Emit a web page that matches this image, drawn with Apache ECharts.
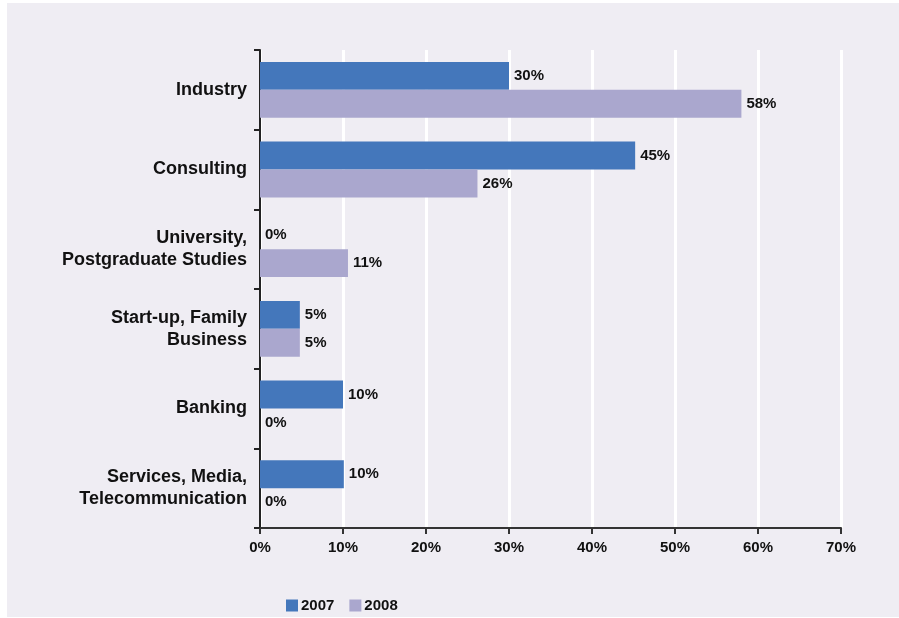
<!DOCTYPE html>
<html>
<head>
<meta charset="utf-8">
<script src="https://cdn.jsdelivr.net/npm/echarts@6/dist/echarts.min.js"></script>
<style>
html,body{margin:0;padding:0;background:#ffffff;}
#chart{width:899px;height:618px;}
</style>
</head>
<body>
<div id="chart"></div>
<script>
const categories = ['Industry', 'Consulting', 'University,\nPostgraduate Studies', 'Start-up, Family\nBusiness', 'Banking', 'Services, Media,\nTelecommunication'];
const values2007 = [30, 45.2, 0, 4.8, 10, 10.1];
const values2008 = [58, 26.2, 10.6, 4.8, 0, 0];
const xTicks = [0, 10, 20, 30, 40, 50, 60, 70];

const FONT = '"Liberation Sans", Arial, sans-serif';
const chart = echarts.init(document.getElementById('chart'));
const labelStyle = {
  show: true, position: 'right', distance: 5,
  fontFamily: FONT, fontWeight: 'bold', fontSize: 15, color: '#111',
  formatter: p => Math.round(p.value) + '%'
};
chart.setOption({
  animation: false,
  backgroundColor: 'transparent',
  graphic: [{
    type: 'rect', z: -10, silent: true,
    shape: {x: 7, y: 3, width: 892, height: 614},
    style: {fill: '#efedf3'}
  }],
  grid: {left: 260, right: 58, top: 50, bottom: 90, containLabel: false},
  legend: {
    left: 281, top: 593, itemWidth: 12, itemHeight: 12, itemGap: 15,
    icon: 'rect',
    textStyle: {fontFamily: FONT, fontWeight: 'bold', fontSize: 15, color: '#111', padding: [0, 0, 0, -2]},
    data: ['2007', '2008']
  },
  xAxis: {
    type: 'value', min: 0, max: 70, interval: 10,
    axisLine: {show: true, lineStyle: {color: '#333', width: 2}},
    axisTick: {show: true, length: 6, lineStyle: {color: '#333', width: 2}},
    axisLabel: {
      margin: 12, fontFamily: FONT, fontWeight: 'bold', fontSize: 15, color: '#111',
      formatter: v => xTicks.includes(v) ? v + '%' : ''
    },
    splitLine: {show: true, lineStyle: {color: '#ffffff', width: 3}}
  },
  yAxis: {
    type: 'category', data: categories, inverse: true,
    axisLine: {show: true, lineStyle: {color: '#222', width: 2}},
    axisTick: {show: true, length: 6, lineStyle: {color: '#222', width: 2}},
    axisLabel: {
      margin: 13, fontFamily: FONT, fontWeight: 'bold', fontSize: 18, color: '#111',
      align: 'right', lineHeight: 22, padding: [3, 0, 0, 0]
    }
  },
  series: [
    {name: '2007', type: 'bar', data: values2007, barGap: '0%', barCategoryGap: '30%',
     itemStyle: {color: '#4477bb'}, label: labelStyle},
    {name: '2008', type: 'bar', data: values2008,
     itemStyle: {color: '#aaa7ce'}, label: labelStyle}
  ]
});
</script>
</body>
</html>
